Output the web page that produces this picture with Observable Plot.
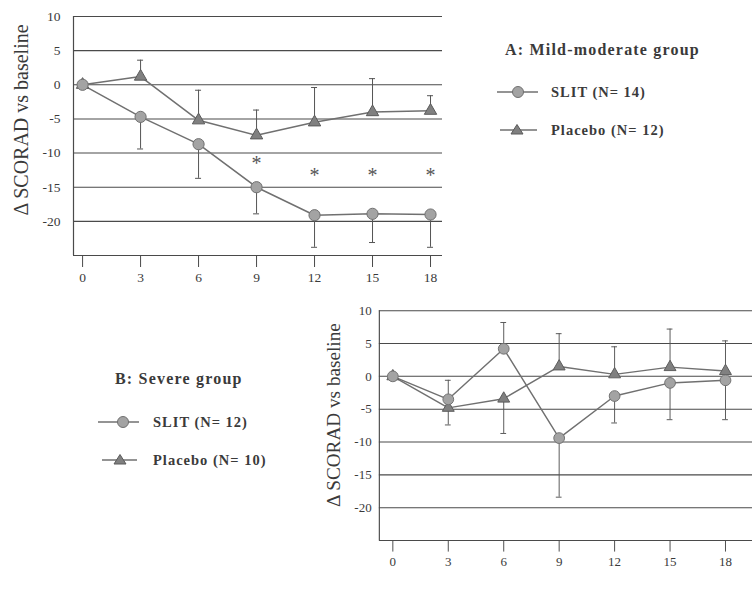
<!DOCTYPE html>
<html>
<head>
<meta charset="utf-8">
<script src="https://cdn.jsdelivr.net/npm/d3@7"></script>
<script src="https://cdn.jsdelivr.net/npm/@observablehq/plot@0.6"></script>
<style>
  html, body { margin: 0; padding: 0; background: #fff; overflow: hidden; width: 752px; height: 593px; }
  #wrap { position: relative; width: 752px; height: 593px; overflow: hidden; font-family: "Liberation Serif", "DejaVu Serif", serif; color: #3a3a3a; }
  .panel { position: absolute; }
  .legend { position: absolute; font-weight: bold; }
  .legend .title { font-size: 16px; letter-spacing: 1.2px; }
  .legend .row { position: absolute; display: flex; align-items: center; font-size: 14.5px; letter-spacing: 1px; white-space: nowrap; }
  .legend svg { display: block; }
</style>
</head>
<body>
<div id="wrap">
  <div id="panelA" class="panel" style="left:0px;top:0px;"></div>
  <div id="panelB" class="panel" style="left:300px;top:290px;"></div>

  <div class="legend" style="left:505px;top:41px;">
    <div class="title">A: Mild-moderate group</div>
  </div>
  <div class="legend" style="left:497px;top:83px;">
    <div class="row" style="left:0;top:0;">
      <svg width="42" height="18"><line x1="0" y1="9" x2="41" y2="9" stroke="#707070" stroke-width="1.5"/><circle cx="21" cy="9" r="5.5" fill="#a3a3a3" stroke="#707070"/></svg>
      <span style="margin-left:12px">SLIT (N= 14)</span>
    </div>
    <div class="row" style="left:3px;top:38px;">
      <svg width="38" height="18"><line x1="0" y1="9" x2="37" y2="9" stroke="#707070" stroke-width="1.5"/><path d="M17,3.5 L23,13 L11,13 Z" fill="#808080" stroke="#5a5a5a"/></svg>
      <span style="margin-left:13px">Placebo (N= 12)</span>
    </div>
  </div>

  <div class="legend" style="left:115px;top:370px;">
    <div class="title">B: Severe group</div>
  </div>
  <div class="legend" style="left:98px;top:413px;">
    <div class="row" style="left:0;top:0;">
      <svg width="42" height="18"><line x1="0" y1="9" x2="41" y2="9" stroke="#707070" stroke-width="1.5"/><circle cx="25" cy="9" r="5.5" fill="#a3a3a3" stroke="#707070"/></svg>
      <span style="margin-left:13px">SLIT (N= 12)</span>
    </div>
    <div class="row" style="left:4px;top:38px;">
      <svg width="36" height="18"><line x1="0" y1="9" x2="35" y2="9" stroke="#707070" stroke-width="1.5"/><path d="M18,3.5 L24,13 L12,13 Z" fill="#808080" stroke="#5a5a5a"/></svg>
      <span style="margin-left:15px">Placebo (N= 10)</span>
    </div>
  </div>
</div>
<script>
// ---------- data ----------
const months = [0, 3, 6, 9, 12, 15, 18];
const yTicks = [10, 5, 0, -5, -10, -15, -20];
const yLabel = "\u0394 SCORAD vs baseline";

// Panel A: mild-moderate group
const aSlit      = [0, -4.7, -8.7, -15.0, -19.1, -18.9, -19.0];
const aSlitErr   = [null, -9.4, -13.7, -18.9, -23.8, -23.1, -23.8];
const aPlacebo   = [0, 1.2, -5.2, -7.4, -5.5, -4.0, -3.8];
const aPlaceboErr= [null, 3.6, -0.8, -3.7, -0.4, 0.9, -1.6];
const aStarMonths = [9, 12, 15, 18];
const aStarY      = [-11.6, -13.3, -13.3, -13.3];

// Panel B: severe group
const bSlit      = [0, -3.5, 4.2, -9.4, -3.0, -1.0, -0.6];
const bSlitErr   = [null, -0.6, 8.2, -18.4, -7.1, -6.6, -6.6];
const bPlacebo   = [0, -4.8, -3.4, 1.5, 0.3, 1.4, 0.8];
const bPlaceboErr= [null, -7.4, -8.7, 6.5, 4.5, 7.2, 5.4];

function rows(vals, errs) {
  return months.map((m, i) => ({x: m, y: vals[i], e: errs[i]}));
}

function panel(opts) {
  const slit = rows(opts.slit, opts.slitErr);
  const plac = rows(opts.plac, opts.placErr);
  const errRows = slit.concat(plac).filter(d => d.e != null);
  const xmin = opts.xDomain[0];
  const marks = [
    Plot.ruleY(yTicks, {stroke: "#4a4a4a", strokeWidth: 1.1}),
    Plot.ruleY([-25], {stroke: "#4a4a4a", strokeWidth: 1.2}),
    Plot.ruleX([xmin], {stroke: "#4a4a4a", strokeWidth: 1.2}),
    Plot.axisY({ticks: yTicks, tickSize: 0, tickPadding: opts.yPad, fontSize: 13.5, label: null, fill: "#3a3a3a", tickFormat: d => String(d)}),
    Plot.axisX({ticks: months, tickSize: 12, tickPadding: 5, fontSize: 13.5, label: null, stroke: "#4a4a4a", fill: "#3a3a3a", tickFormat: d => String(d)}),
    Plot.text([yLabel], {frameAnchor: "left", textAnchor: "middle", lineAnchor: "middle", rotate: -90, dx: opts.labelDx, dy: opts.labelDy, fontSize: 20, fill: "#3a3a3a", style: "letter-spacing:2.6px"}),
    // error bars
    Plot.ruleX(errRows, {x: "x", y1: "y", y2: "e", stroke: "#555", strokeWidth: 1}),
    Plot.ruleY(errRows, {y: "e", x1: "x", x2: "x", insetLeft: -3, insetRight: -3, stroke: "#555", strokeWidth: 1}),
    // lines
    Plot.line(slit, {x: "x", y: "y", stroke: "#707070", strokeWidth: 1.5}),
    Plot.line(plac, {x: "x", y: "y", stroke: "#707070", strokeWidth: 1.5}),
    // markers
    Plot.dot(plac, {x: "x", y: "y", symbol: "triangle", r: 4.6, fill: "#808080", stroke: "#5a5a5a", strokeWidth: 1}),
    Plot.dot(slit, {x: "x", y: "y", r: 5.6, fill: "#a3a3a3", stroke: "#707070", strokeWidth: 1})
  ];
  if (opts.stars) {
    marks.push(Plot.text(opts.stars.x.map((m, i) => ({x: m, y: opts.stars.y[i]})), {x: "x", y: "y", text: () => "*", fontSize: 20, fill: "#555"}));
  }
  return Plot.plot({
    width: opts.width,
    height: opts.height,
    marginLeft: opts.ml,
    marginRight: opts.mr,
    marginTop: opts.mt,
    marginBottom: opts.mb,
    style: {fontFamily: "'Liberation Serif', 'DejaVu Serif', serif", background: "transparent", overflow: "visible"},
    x: {domain: opts.xDomain},
    y: {domain: [-25, 10]},
    marks
  });
}

document.getElementById("panelA").append(panel({
  slit: aSlit, slitErr: aSlitErr, plac: aPlacebo, placErr: aPlaceboErr,
  stars: {x: aStarMonths, y: aStarY},
  width: 450, height: 295, ml: 73, mr: 8, mt: 16, mb: 40,
  xDomain: [-0.47, 18.62], yPad: 13, labelDx: -52, labelDy: -16
}));

document.getElementById("panelB").append(panel({
  slit: bSlit, slitErr: bSlitErr, plac: bPlacebo, placErr: bPlaceboErr,
  stars: null,
  width: 470, height: 303, ml: 82, mr: 0, mt: 21, mb: 43,
  xDomain: [-0.73, 19.46], yPad: 8, labelDx: -47, labelDy: -11
}));
</script>
</body>
</html>
